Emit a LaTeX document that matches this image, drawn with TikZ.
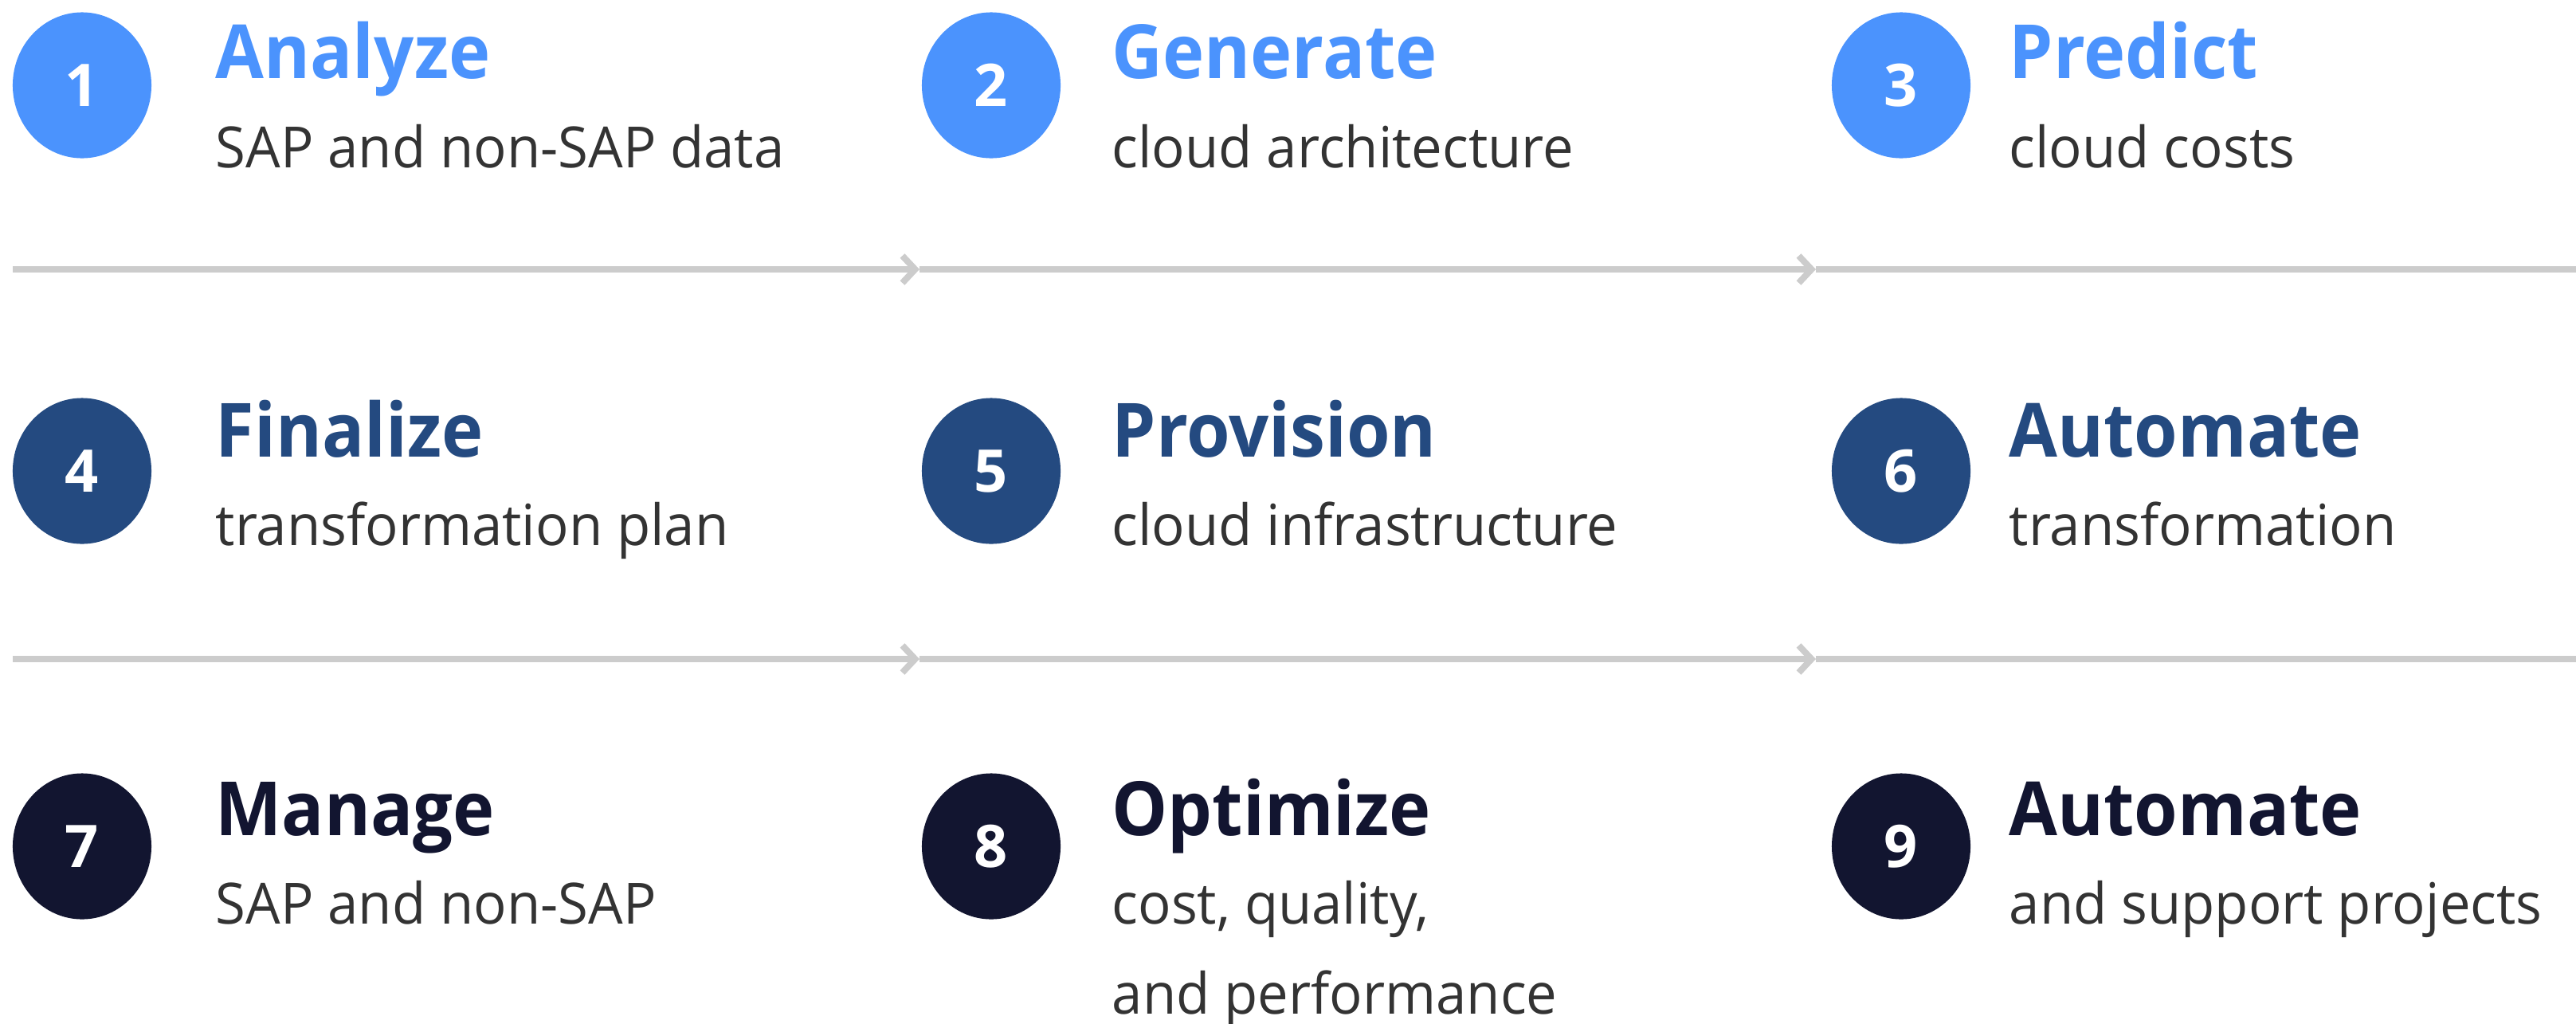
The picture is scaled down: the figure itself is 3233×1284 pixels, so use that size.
\documentclass[tikz,border=0pt]{standalone}
\usepackage{fontspec}
\setmainfont{Open Sans}
\newfontfamily\headfont{Open Sans}[FakeStretch=0.94]
\newfontfamily\descfont{Open Sans}[FakeStretch=0.965]
\usepackage{tikz}
\usetikzlibrary{shapes.geometric,arrows.meta}

\definecolor{skyblue}{HTML}{4B93FD}
\definecolor{midblue}{HTML}{244A80}
\definecolor{inkblue}{HTML}{121530}
\definecolor{rulegray}{HTML}{CCCCCC}
\definecolor{textgray}{HTML}{333333}

\tikzset{
	badge/.style={ellipse, minimum width=1.74cm, minimum height=1.83cm, inner sep=0pt, text=white, font=\bfseries\fontsize{21}{21}\selectfont},
	head/.style={anchor=base west, inner sep=0pt, font=\headfont\bfseries\fontsize{26.7}{32}\selectfont},
	desc/.style={anchor=base west, inner sep=0pt, text=textgray, font=\descfont\fontsize{20.3}{32}\selectfont},
	rule/.style={draw=rulegray, line width=0.08cm},
	chev/.style={-{Straight Barb[length=0.16cm, width=0.34cm]}}
}

\begin{document}
\begin{tikzpicture}[x=0.01cm, y=-0.01cm]
				\useasboundingbox (0,0) rectangle (3233,1284);
				
				% first row
				\node[badge, fill=skyblue] (n1) at (103,107) {1};
				\node[badge, fill=skyblue] (n2) at (1244,107) {2};
				\node[badge, fill=skyblue] (n3) at (2386,107) {3};
				
				\node[head, text=skyblue] (t1) at (270,98) {Analyze};
				\node[head, text=skyblue] (t2) at (1395,98) {Generate};
				\node[head, text=skyblue] (t3) at (2521,98) {Predict};
				
				\node[desc] (s1) at (270,210) {SAP and non-SAP data};
				\node[desc] (s2) at (1395,210) {cloud architecture};
				\node[desc] (s3) at (2521,210) {cloud costs};
				
				% second row
				\node[badge, fill=midblue] (n4) at (103,591) {4};
				\node[badge, fill=midblue] (n5) at (1244,591) {5};
				\node[badge, fill=midblue] (n6) at (2386,591) {6};
				
				\node[head, text=midblue] (t4) at (270,573) {Finalize};
				\node[head, text=midblue] (t5) at (1395,573) {Provision};
				\node[head, text=midblue] (t6) at (2521,573) {Automate};
				
				\node[desc] (s4) at (270,684) {transformation plan};
				\node[desc] (s5) at (1395,684) {cloud infrastructure};
				\node[desc] (s6) at (2521,684) {transformation};
				
				% third row
				\node[badge, fill=inkblue] (n7) at (103,1062) {7};
				\node[badge, fill=inkblue] (n8) at (1244,1062) {8};
				\node[badge, fill=inkblue] (n9) at (2386,1062) {9};
				
				\node[head, text=inkblue] (t7) at (270,1048) {Manage};
				\node[head, text=inkblue] (t8) at (1395,1048) {Optimize};
				\node[head, text=inkblue] (t9) at (2521,1048) {Automate};
				
				\node[desc] (s7) at (270,1159) {SAP and non-SAP};
				\node[desc] (s8) at (1395,1159) {cost, quality,};
				\node[desc] (s8b) at (1395,1272) {and performance};
				\node[desc] (s9) at (2521,1159) {and support projects};
				
				% separators
				\coordinate (a0) at (16,338);
				\coordinate (a1) at (1154,338);
				\coordinate (a2) at (2279,338);
				\coordinate (a3) at (3233,338);
				\coordinate (b0) at (16,827);
				\coordinate (b1) at (1154,827);
				\coordinate (b2) at (2279,827);
				\coordinate (b3) at (3233,827);
				
				\draw[rule, chev] (a0) -- (a1);
				\draw[rule, chev] (a1) -- (a2);
				\draw[rule] (a2) -- (a3);
				\draw[rule, chev] (b0) -- (b1);
				\draw[rule, chev] (b1) -- (b2);
				\draw[rule] (b2) -- (b3);
			\end{tikzpicture}
\end{document}
